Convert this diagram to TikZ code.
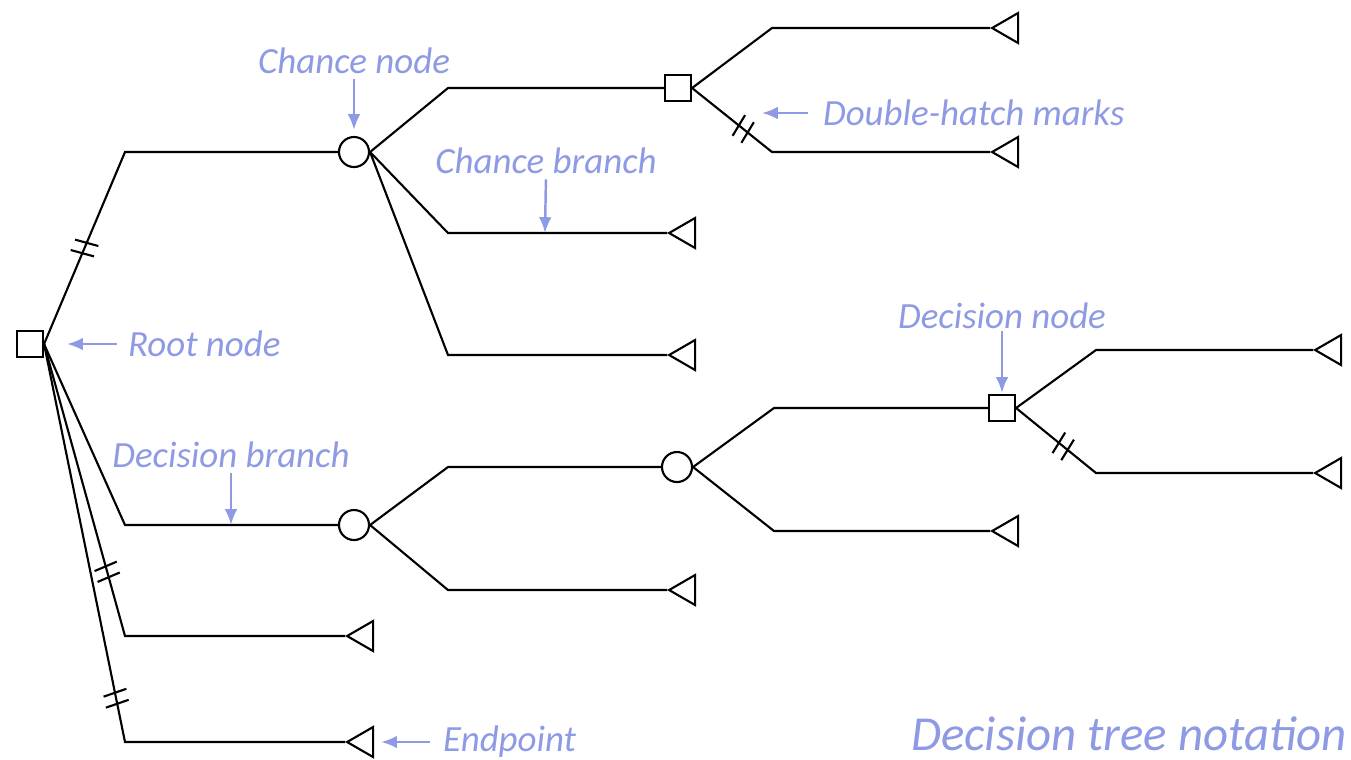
\documentclass[tikz,border=0pt]{standalone}
\usepackage{fontspec}
\usepackage{tikz}
\usetikzlibrary{arrows.meta,shapes.geometric}
\newfontfamily\notefont{Carlito}
\definecolor{noteblue}{RGB}{142,154,228}

\begin{document}
\begin{tikzpicture}[x=0.01cm,y=-0.01cm,line width=0.6pt,
	decision/.style={draw,rectangle,minimum size=0.26cm,inner sep=0pt},
	chance/.style={draw,circle,minimum size=0.30cm,inner sep=0pt},
	endpt/.style={draw,regular polygon,regular polygon sides=3,shape border rotate=90,
		minimum size=0.346cm,inner sep=0pt,anchor=corner 1},
	lbl/.style={text=noteblue,inner sep=0pt,font=\notefont\itshape\fontsize{10.5}{12}\selectfont},
	lblarrow/.style={draw=noteblue,line width=0.7pt,-{Latex[length=4.5pt,width=3.6pt]}},
	dhatch/.pic={\draw (-1.15pt,-3.4pt) -- (-2.05pt,3.4pt) (2.05pt,-3.4pt) -- (1.15pt,3.4pt);}]
	\useasboundingbox (0,0) rectangle (1351,759);

	% tree nodes
	\node[decision] (root) at (30,344) {};
	\node[chance] (c1) at (354,152) {};
	\node[decision] (d1) at (678,88) {};
	\node[chance] (c2) at (354,525) {};
	\node[chance] (c3) at (677,467) {};
	\node[decision] (d2) at (1002,408) {};

	% endpoints
	\node[endpt] (e1) at (990,28) {};
	\node[endpt] (e2) at (990,152) {};
	\node[endpt] (e3) at (667,233) {};
	\node[endpt] (e4) at (667,355) {};
	\node[endpt] (e5) at (667,590) {};
	\node[endpt] (e6) at (990,531) {};
	\node[endpt] (e7) at (1313,350) {};
	\node[endpt] (e8) at (1313,473) {};
	\node[endpt] (e9) at (345,636) {};
	\node[endpt] (e10) at (345,742) {};

	% bends
	\coordinate (r1) at (125,152);
	\coordinate (r2) at (125,525);
	\coordinate (r3) at (125,636);
	\coordinate (r4) at (125,742);
	\coordinate (c1a) at (448,88);
	\coordinate (c1b) at (448,233);
	\coordinate (c1c) at (448,355);
	\coordinate (d1a) at (772,28);
	\coordinate (d1b) at (772,152);
	\coordinate (c2a) at (448,467);
	\coordinate (c2b) at (448,590);
	\coordinate (c3a) at (774,408);
	\coordinate (c3b) at (774,531);
	\coordinate (d2a) at (1096,350);
	\coordinate (d2b) at (1096,473);

	% branches
	\draw (root.east) -- pic[pos=0.5,sloped]{dhatch} (r1) -- (c1.west);
	\draw (root.east) -- (r2) -- (c2.west);
	\draw (root.east) -- pic[pos=0.78,sloped]{dhatch} (r3) -- (e9.corner 1);
	\draw (root.east) -- pic[pos=0.89,sloped]{dhatch} (r4) -- (e10.corner 1);
	\draw (c1.east) -- (c1a) -- (d1.west);
	\draw (c1.east) -- (c1b) -- (e3.corner 1);
	\draw (c1.east) -- (c1c) -- (e4.corner 1);
	\draw (d1.east) -- (d1a) -- (e1.corner 1);
	\draw (d1.east) -- pic[pos=0.64,sloped]{dhatch} (d1b) -- (e2.corner 1);
	\draw (c2.east) -- (c2a) -- (c3.west);
	\draw (c2.east) -- (c2b) -- (e5.corner 1);
	\draw (c3.east) -- (c3a) -- (d2.west);
	\draw (c3.east) -- (c3b) -- (e6.corner 1);
	\draw (d2.east) -- (d2a) -- (e7.corner 1);
	\draw (d2.east) -- pic[pos=0.59,sloped]{dhatch} (d2b) -- (e8.corner 1);

	% notes
	\node[lbl,anchor=base] (lchance) at (354,73) {Chance node};
	\node[lbl,anchor=base] (lcbranch) at (546,173) {Chance branch};
	\node[lbl,anchor=west] (ldouble) at (822,113) {Double-hatch marks};
	\node[lbl,anchor=west] (lroot) at (127,344) {Root node};
	\node[lbl,anchor=base] (ldnode) at (1002,328) {Decision node};
	\node[lbl,anchor=base] (ldbranch) at (231,467) {Decision branch};
	\node[lbl,anchor=west] (lend) at (442,742) {Endpoint};
	\node[lbl,anchor=base west,font=\notefont\itshape\fontsize{13.9}{16}\selectfont] (ltitle) at (910,750) {Decision tree notation};

	\coordinate (cbr) at (545,233);
	\coordinate (dbr) at (231,525);
	\coordinate (dhm) at (762,113);
	\draw[lblarrow,shorten <=0.05cm,shorten >=0.06cm] (lchance.south) -- (c1.north);
	\draw[lblarrow,shorten <=0.05cm] (lcbranch.south) -- (cbr);
	\draw[lblarrow,shorten <=0.14cm] (ldouble.west) -- (dhm);
	\draw[lblarrow,shorten <=0.10cm,shorten >=0.23cm] (lroot.west) -- (root.east);
	\draw[lblarrow,shorten <=0.02cm,shorten >=0.01cm] (ldnode.south) -- (d2.north);
	\draw[lblarrow,shorten <=0.05cm] (ldbranch.south) -- (dbr);
	\draw[lblarrow,shorten <=0.12cm,shorten >=0.07cm] (lend.west) -- (e10);
\end{tikzpicture}
\end{document}
